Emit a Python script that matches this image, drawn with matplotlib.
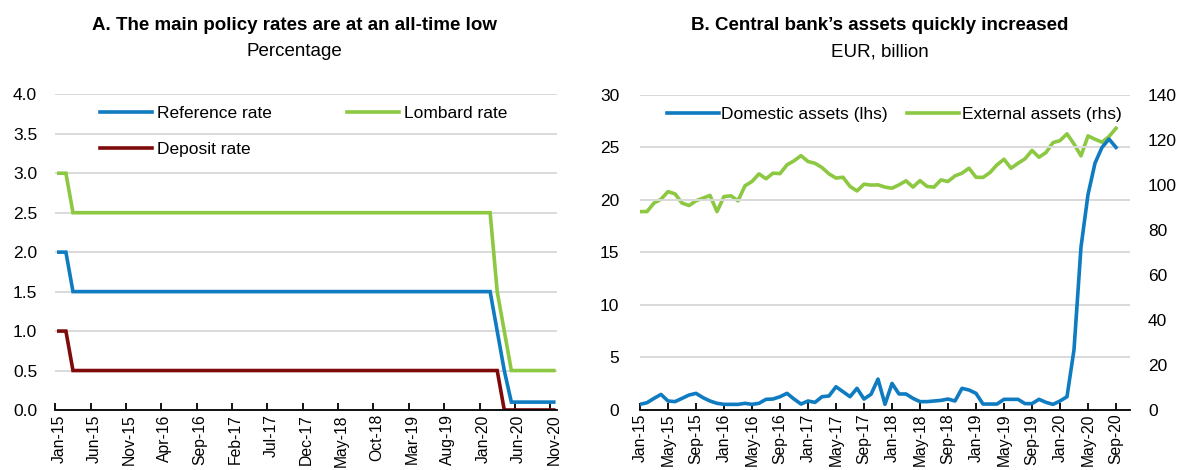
import matplotlib
matplotlib.use("Agg")
import matplotlib.pyplot as plt
from matplotlib import font_manager
import numpy as np

# ---------------- data ----------------
# Panel A: monthly policy rates, Jan-15 .. Nov-20 (percentage)
reference_rate = [
    2.0, 2.0, 1.5, 1.5, 1.5, 1.5, 1.5, 1.5, 1.5, 1.5, 1.5, 1.5,   # 2015
    1.5, 1.5, 1.5, 1.5, 1.5, 1.5, 1.5, 1.5, 1.5, 1.5, 1.5, 1.5,   # 2016
    1.5, 1.5, 1.5, 1.5, 1.5, 1.5, 1.5, 1.5, 1.5, 1.5, 1.5, 1.5,   # 2017
    1.5, 1.5, 1.5, 1.5, 1.5, 1.5, 1.5, 1.5, 1.5, 1.5, 1.5, 1.5,   # 2018
    1.5, 1.5, 1.5, 1.5, 1.5, 1.5, 1.5, 1.5, 1.5, 1.5, 1.5, 1.5,   # 2019
    1.5, 1.5, 1.0, 0.5, 0.1, 0.1, 0.1, 0.1, 0.1, 0.1, 0.1,        # 2020
]
lombard_rate = [
    3.0, 3.0, 2.5, 2.5, 2.5, 2.5, 2.5, 2.5, 2.5, 2.5, 2.5, 2.5,
    2.5, 2.5, 2.5, 2.5, 2.5, 2.5, 2.5, 2.5, 2.5, 2.5, 2.5, 2.5,
    2.5, 2.5, 2.5, 2.5, 2.5, 2.5, 2.5, 2.5, 2.5, 2.5, 2.5, 2.5,
    2.5, 2.5, 2.5, 2.5, 2.5, 2.5, 2.5, 2.5, 2.5, 2.5, 2.5, 2.5,
    2.5, 2.5, 2.5, 2.5, 2.5, 2.5, 2.5, 2.5, 2.5, 2.5, 2.5, 2.5,
    2.5, 2.5, 1.5, 1.0, 0.5, 0.5, 0.5, 0.5, 0.5, 0.5, 0.5,
]
deposit_rate = [
    1.0, 1.0, 0.5, 0.5, 0.5, 0.5, 0.5, 0.5, 0.5, 0.5, 0.5, 0.5,
    0.5, 0.5, 0.5, 0.5, 0.5, 0.5, 0.5, 0.5, 0.5, 0.5, 0.5, 0.5,
    0.5, 0.5, 0.5, 0.5, 0.5, 0.5, 0.5, 0.5, 0.5, 0.5, 0.5, 0.5,
    0.5, 0.5, 0.5, 0.5, 0.5, 0.5, 0.5, 0.5, 0.5, 0.5, 0.5, 0.5,
    0.5, 0.5, 0.5, 0.5, 0.5, 0.5, 0.5, 0.5, 0.5, 0.5, 0.5, 0.5,
    0.5, 0.5, 0.5, 0.0, 0.0, 0.0, 0.0, 0.0, 0.0, 0.0, 0.0,
]
left_tick_labels = ["Jan-15", "Jun-15", "Nov-15", "Apr-16", "Sep-16", "Feb-17",
                    "Jul-17", "Dec-17", "May-18", "Oct-18", "Mar-19", "Aug-19",
                    "Jan-20", "Jun-20", "Nov-20"]

# Panel B: monthly central bank assets, Jan-15 .. Sep-20 (EUR billion)
domestic_assets = [
    0.49, 0.65, 1.06, 1.44, 0.81, 0.75, 1.06, 1.38, 1.54, 1.13, 0.81, 0.59,   # 2015
    0.49, 0.49, 0.49, 0.59, 0.49, 0.59, 0.97, 1.00, 1.22, 1.54, 1.00, 0.52,   # 2016
    0.81, 0.68, 1.22, 1.29, 2.17, 1.70, 1.22, 2.02, 1.00, 1.45, 2.90, 0.49,   # 2017
    2.49, 1.48, 1.48, 1.06, 0.75, 0.75, 0.81, 0.87, 1.00, 0.81, 2.02, 1.86,   # 2018
    1.54, 0.52, 0.52, 0.52, 0.97, 0.97, 0.97, 0.56, 0.56, 0.97, 0.68, 0.49,   # 2019
    0.81, 1.22, 5.70, 15.5, 20.5, 23.5, 25.0, 25.8, 25.0,                     # 2020
]
external_assets = [
    88.1, 88.1, 91.9, 93.6, 97.0, 96.0, 91.9, 90.8, 92.9, 94.1, 95.3, 88.1,
    94.8, 95.1, 92.9, 99.6, 101.5, 104.9, 102.7, 105.2, 105.0, 108.9, 110.7, 113.0,
    110.4, 109.6, 107.7, 104.9, 103.0, 103.4, 99.3, 97.3, 100.3, 99.9, 100.0, 99.0,
    98.5, 100.0, 101.8, 99.0, 101.9, 99.3, 99.0, 102.2, 101.5, 104.0, 105.2, 107.4,
    103.4, 103.3, 105.5, 108.9, 111.4, 107.4, 109.6, 111.6, 115.3, 112.3, 114.4, 118.8,
    119.7, 122.7, 118.2, 112.9, 121.8, 120.3, 119.0, 121.5, 125.2,
]
right_tick_labels = ["Jan-15", "May-15", "Sep-15", "Jan-16", "May-16", "Sep-16",
                     "Jan-17", "May-17", "Sep-17", "Jan-18", "May-18", "Sep-18",
                     "Jan-19", "May-19", "Sep-19", "Jan-20", "May-20", "Sep-20"]

# ---------------- style ----------------
names = {f.name for f in font_manager.fontManager.ttflist}
FAM = "Liberation Sans Narrow" if "Liberation Sans Narrow" in names else "Liberation Sans"
plt.rcParams["font.family"] = [FAM, "DejaVu Sans"]

BLUE = "#0F7BC1"
GREEN = "#8CC841"
DRED = "#7F0A0A"
GRID = "#D9D9D9"
FS = 12.5
XFS = 11.3
LW = 2.6

W, H = 1179, 470
fig = plt.figure(figsize=(W / 100, H / 100), dpi=100)


def style_axes(ax):
    for s in ("top", "right", "left"):
        ax.spines[s].set_visible(False)
    ax.spines["bottom"].set_linewidth(1.3)
    ax.spines["bottom"].set_color("black")
    ax.spines["bottom"].set_zorder(5)
    ax.grid(axis="y", color=GRID, linewidth=1.4)
    ax.set_axisbelow(True)
    ax.tick_params(axis="y", length=0, labelsize=FS)


# ---------------- Panel A ----------------
axL = fig.add_axes([55.3 / W, 1 - 410 / H, 502 / W, (410 - 94.3) / H])
style_axes(axL)
nL = len(reference_rate)
xL = np.arange(nL)
axL.plot(xL, reference_rate, color=BLUE, lw=LW, label="Reference rate", solid_joinstyle="miter")
axL.plot(xL, deposit_rate, color=DRED, lw=LW, label="Deposit rate", solid_joinstyle="miter")
axL.plot(xL, lombard_rate, color=GREEN, lw=LW, label="Lombard rate", solid_joinstyle="miter")
axL.set_xlim(-0.5, nL - 0.5)
axL.set_ylim(0, 4.0)
axL.set_yticks(np.arange(0, 4.01, 0.5))
axL.set_yticklabels([f"{v:.1f}" for v in np.arange(0, 4.01, 0.5)])
axL.tick_params(axis="y", pad=13)
lab_pos = np.arange(0, nL, 5)
axL.set_xticks(lab_pos)
axL.set_xticklabels(left_tick_labels, rotation=90, fontsize=XFS)
axL.tick_params(axis="x", which="major", length=0, pad=3)
axL.set_xticks(lab_pos - 0.5, minor=True)
axL.tick_params(axis="x", which="minor", direction="in", length=5, width=1.3, color="black")
h, l = axL.get_legend_handles_labels()
axL.legend(h, l, ncol=2, loc="upper left", bbox_to_anchor=(0.075, 0.985), frameon=False,
           fontsize=FS, handlelength=3.0, handletextpad=0.3, columnspacing=4.3,
           labelspacing=1.18, borderaxespad=0)

# ---------------- Panel B ----------------
axR = fig.add_axes([640 / W, 1 - 409.5 / H, 490 / W, (409.5 - 95) / H])
style_axes(axR)
nR = len(domestic_assets)
xR = np.arange(nR)
axR2 = axR.twinx()
for s in ("top", "right", "left", "bottom"):
    axR2.spines[s].set_visible(False)
axR2.plot(xR, external_assets, color=GREEN, lw=LW, label="External assets (rhs)", zorder=2)
axR.plot(xR, domestic_assets, color=BLUE, lw=LW, label="Domestic assets (lhs)", zorder=3)
axR.set_zorder(axR2.get_zorder() + 1)
axR.patch.set_visible(False)
axR.set_xlim(0, 70)
axR.set_ylim(0, 30)
axR.set_yticks(np.arange(0, 31, 5))
axR.tick_params(axis="y", pad=15)
axR2.set_ylim(0, 140)
axR2.set_yticks(np.arange(0, 141, 20))
axR2.tick_params(axis="y", length=0, labelsize=FS, pad=13)
axR.set_xticks(np.arange(0, nR, 4))
axR.set_xticklabels(right_tick_labels, rotation=90, fontsize=XFS)
axR.tick_params(axis="x", direction="in", length=5, width=1.3, color="black", pad=3)
h1, l1 = axR.get_legend_handles_labels()
h2, l2 = axR2.get_legend_handles_labels()
axR.legend(h1 + h2, l1 + l2, ncol=2, loc="upper left", bbox_to_anchor=(0.040, 0.985),
           frameon=False, fontsize=FS, handlelength=3.0, handletextpad=0.15,
           columnspacing=1.1, borderaxespad=0)

# ---------------- titles ----------------
fig.text(294 / W, 1 - 26 / H, "A. The main policy rates are at an all-time low",
         ha="center", va="center", fontsize=13.5, fontweight="bold")
fig.text(294 / W, 1 - 52 / H, "Percentage", ha="center", va="center", fontsize=13.5)
fig.text(880 / W, 1 - 26 / H, "B. Central bank\u2019s assets quickly increased",
         ha="center", va="center", fontsize=13.5, fontweight="bold")
fig.text(880 / W, 1 - 52 / H, "EUR, billion", ha="center", va="center", fontsize=13.5)

fig.savefig("out.png", dpi=100)
